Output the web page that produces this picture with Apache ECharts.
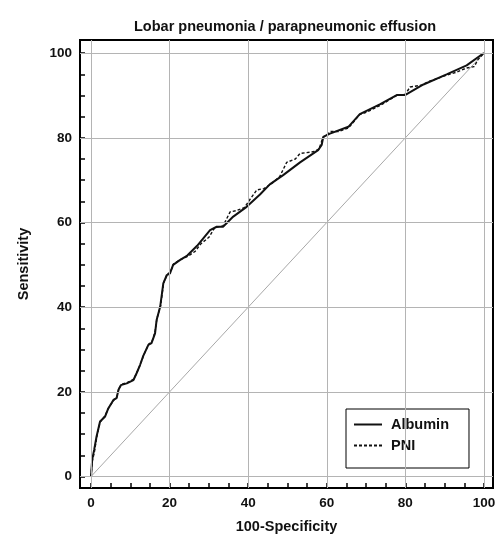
<!DOCTYPE html>
<html>
<head>
<meta charset="utf-8">
<script src="https://cdn.jsdelivr.net/npm/echarts@6/dist/echarts.min.js"></script>
<style>html,body{margin:0;padding:0;background:#fff;}#c{width:500px;height:534px;}</style>
</head>
<body>
<div id="c"></div>
<script>
const titleText = 'Lobar pneumonia / parapneumonic effusion';
const xName = '100-Specificity';
const yName = 'Sensitivity';
const tickLabels = [0, 20, 40, 60, 80, 100];
const minorTicks = [0, 5, 10, 15, 20, 25, 30, 35, 40, 45, 50, 55, 60, 65, 70, 75, 80, 85, 90, 95, 100];
const seriesNames = ['Albumin', 'PNI'];

const albumin = [[0,0],[0.3,4],[0.8,6.3],[1.4,9.4],[2.3,13],[3.6,14.2],[4.4,16.1],[5.7,18.1],[6.5,18.5],[7.0,20.5],[7.6,21.6],[9.1,22],[10.8,22.8],[11.6,24.4],[12.5,26.4],[13.3,28.5],[14.6,31.1],[15.4,31.5],[16.3,33.8],[16.7,37],[17.6,40.1],[18.4,45.6],[19.3,47.6],[20.1,48],[20.9,50],[22.6,51.1],[24.5,52.2],[27,54.5],[30.3,58.2],[32,59],[33.6,59],[36.2,61.4],[39.6,63.7],[43,66.6],[45.5,69],[48.9,71.2],[53.2,74.2],[57.8,77.1],[58.7,78.3],[59.1,80.2],[60.8,81],[65.5,82.6],[68.4,85.6],[73.5,87.9],[77.8,90.1],[79.9,90.1],[84.6,92.6],[90.5,95],[95.6,97.1],[99.8,99.9],[100,100]];

const pni = [[0,0],[0.3,3.5],[0.9,6],[1.5,9.5],[2.3,12.8],[3.6,14.4],[4.5,16.3],[5.8,18],[6.6,18.8],[7.1,20.8],[7.8,21.8],[9.2,22.2],[10.9,23],[11.7,24.6],[12.6,26.6],[13.4,28.7],[14.7,31.3],[15.5,31.8],[16.3,34.2],[16.8,37.4],[17.7,40.3],[18.5,45.8],[19.4,47.8],[20.2,48.3],[21,50.2],[22.7,51.2],[24.6,52],[26.5,53.2],[28,55],[30,56.5],[31.5,58.8],[33.6,59.2],[35.4,62.5],[37,62.8],[39,63.5],[40.5,65.5],[42.2,67.7],[44,68],[46,69.2],[48,70.8],[49.8,74.2],[52,75],[53.2,76.3],[56.5,76.7],[58,77.3],[59,80],[61,81.5],[63,81.5],[65.5,82.3],[68.4,85.5],[70,86],[73.5,87.6],[77.8,90],[80,90.3],[81.2,92],[84,92.4],[86,93.3],[90.5,94.8],[93,95.5],[95.6,96.5],[97.5,96.8],[98.5,98.5],[100,100]];

const diagonal = [[0,0],[100,100]];

const font = 'Liberation Sans, Arial, sans-serif';
const chart = echarts.init(document.getElementById('c'));

const gridLines = tickLabels.map(v => ({xAxis: v})).concat(tickLabels.map(v => ({yAxis: v})));

chart.setOption({
  animation: false,
  backgroundColor: '#fff',
  title: {
    text: titleText, left: 129, top: 14,
    textStyle: {fontFamily: font, fontSize: 14.5, fontWeight: 'bold', color: '#111'}
  },
  grid: {left: 80, right: 7, top: 40, bottom: 46, containLabel: false, outerBoundsMode: 'none', show: true, borderColor: '#000', borderWidth: 2, backgroundColor: 'transparent'},
  legend: {
    left: 346, top: 409, orient: 'vertical',
    data: seriesNames,
    itemWidth: 28, itemHeight: 14, itemGap: 6,
    padding: [8, 20, 15, 7],
    itemStyle: {opacity: 0},
    borderColor: '#000', borderWidth: 1, backgroundColor: '#fff',
    textStyle: {fontFamily: font, fontSize: 14.5, fontWeight: 'bold', color: '#111', padding: [0, 0, 0, 4]}
  },
  xAxis: {
    type: 'value', min: -2.8, max: 102.3,
    name: xName, nameLocation: 'middle', nameGap: 31,
    nameTextStyle: {fontFamily: font, fontSize: 14.5, fontWeight: 'bold', color: '#111'},
    axisLine: {show: true, onZero: false, lineStyle: {color: '#000', width: 2}},
    axisTick: {show: true, inside: true, length: 5, customValues: minorTicks, lineStyle: {color: '#000', width: 1.5}},
    axisLabel: {customValues: tickLabels, margin: 8, fontFamily: font, fontSize: 13.5, fontWeight: 'bold', color: '#111'},
    splitLine: {show: false}
  },
  yAxis: {
    type: 'value', min: -2.7, max: 103.1,
    name: yName, nameLocation: 'middle', nameGap: 49,
    nameTextStyle: {fontFamily: font, fontSize: 14.5, fontWeight: 'bold', color: '#111'},
    axisLine: {show: true, onZero: false, lineStyle: {color: '#000', width: 2}},
    axisTick: {show: true, inside: true, length: 5, customValues: minorTicks, lineStyle: {color: '#000', width: 1.5}},
    axisLabel: {customValues: tickLabels, margin: 8, fontFamily: font, fontSize: 13.5, fontWeight: 'bold', color: '#111'},
    splitLine: {show: false}
  },
  series: [
    {
      name: 'diag', type: 'line', data: diagonal, symbol: 'none', silent: true,
      lineStyle: {color: '#a8a8a8', width: 1}, z: 1,
      markLine: {
        silent: true, symbol: 'none', label: {show: false},
        lineStyle: {color: '#b4b4b4', width: 1, type: 'solid'},
        data: gridLines
      }
    },
    {
      name: seriesNames[1], type: 'line', data: pni, symbol: 'none', z: 3,
      lineStyle: {color: '#111', width: 1.4, type: [3, 2]}, itemStyle: {color: '#111'}
    },
    {
      name: seriesNames[0], type: 'line', data: albumin, symbol: 'none', z: 4,
      lineStyle: {color: '#111', width: 2}, itemStyle: {color: '#111'}
    }
  ]
});
</script>
</body>
</html>
